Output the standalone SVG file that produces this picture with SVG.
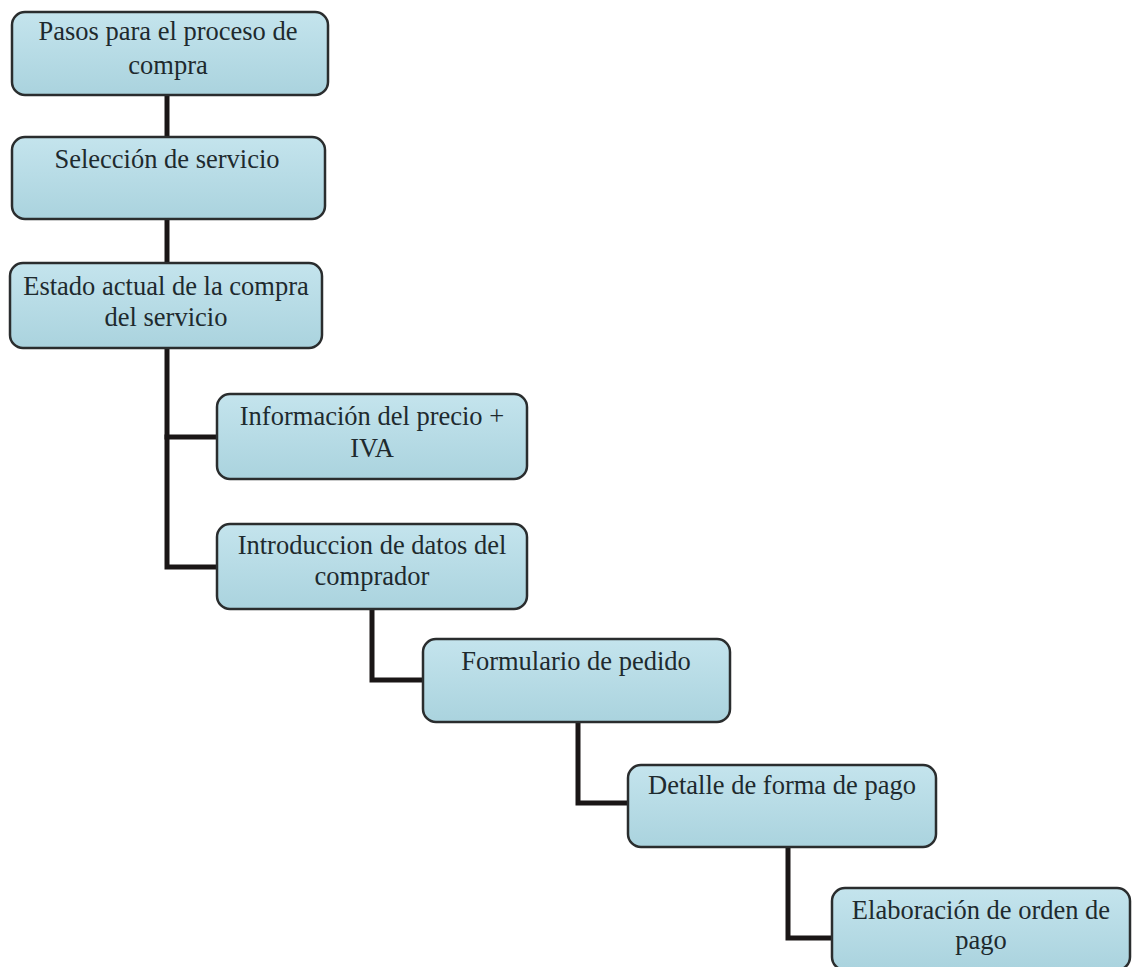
<svg xmlns="http://www.w3.org/2000/svg" width="1132" height="967" viewBox="0 0 1132 967">
  <defs>
    <linearGradient id="boxFill" x1="0" y1="0" x2="0" y2="1">
      <stop offset="0" stop-color="#c4e4ed"/>
      <stop offset="1" stop-color="#aad3de"/>
    </linearGradient>
    <style>
      .box { fill: url(#boxFill); stroke: #2a2d2e; stroke-width: 2.5; }
      .lbl { font-family: "Liberation Serif", "Tinos", "Times New Roman", Times, "DejaVu Serif", serif; font-size: 26.5px; fill: #1e2a2e; text-anchor: middle; }
      .conn { fill: none; stroke: #1a1616; stroke-width: 5; stroke-linejoin: miter; stroke-linecap: square; }
    </style>
  </defs>
  <rect width="1132" height="967" fill="#ffffff"/>

  <!-- connectors -->
  <g id="connectors">
    <path class="conn" d="M167 96 V136"/>
    <path class="conn" d="M167 220 V262"/>
    <path class="conn" d="M167 349 V567 H216"/>
    <path class="conn" d="M167 437 H216"/>
    <path class="conn" d="M372 610 V680 H422"/>
    <path class="conn" d="M578 723 V803 H627"/>
    <path class="conn" d="M788 848 V938 H831"/>
  </g>

  <g id="node-pasos">
    <rect class="box" x="12" y="12" width="316" height="83" rx="13"/>
    <text class="lbl" x="168" y="40">Pasos para el proceso de</text>
    <text class="lbl" x="168" y="74">compra</text>
  </g>

  <g id="node-seleccion">
    <rect class="box" x="12" y="137" width="313" height="82" rx="13"/>
    <text class="lbl" x="167" y="168">Selección de servicio</text>
  </g>

  <g id="node-estado">
    <rect class="box" x="10" y="263" width="312" height="85" rx="13"/>
    <text class="lbl" x="166" y="295">Estado actual de la compra</text>
    <text class="lbl" x="166" y="326">del servicio</text>
  </g>

  <g id="node-informacion">
    <rect class="box" x="217" y="394" width="310" height="85" rx="13"/>
    <text class="lbl" x="372" y="425">Información del precio +</text>
    <text class="lbl" x="372" y="457">IVA</text>
  </g>

  <g id="node-introduccion">
    <rect class="box" x="217" y="524" width="310" height="85" rx="13"/>
    <text class="lbl" x="372" y="554">Introduccion de datos del</text>
    <text class="lbl" x="372" y="585">comprador</text>
  </g>

  <g id="node-formulario">
    <rect class="box" x="423" y="639" width="307" height="83" rx="13"/>
    <text class="lbl" x="576" y="670">Formulario de pedido</text>
  </g>

  <g id="node-detalle">
    <rect class="box" x="628" y="765" width="308" height="82" rx="13"/>
    <text class="lbl" x="782" y="794">Detalle de forma de pago</text>
  </g>

  <g id="node-elaboracion">
    <rect class="box" x="832" y="888" width="298" height="82" rx="13"/>
    <text class="lbl" x="981" y="919">Elaboración de orden de</text>
    <text class="lbl" x="981" y="949">pago</text>
  </g>
</svg>
